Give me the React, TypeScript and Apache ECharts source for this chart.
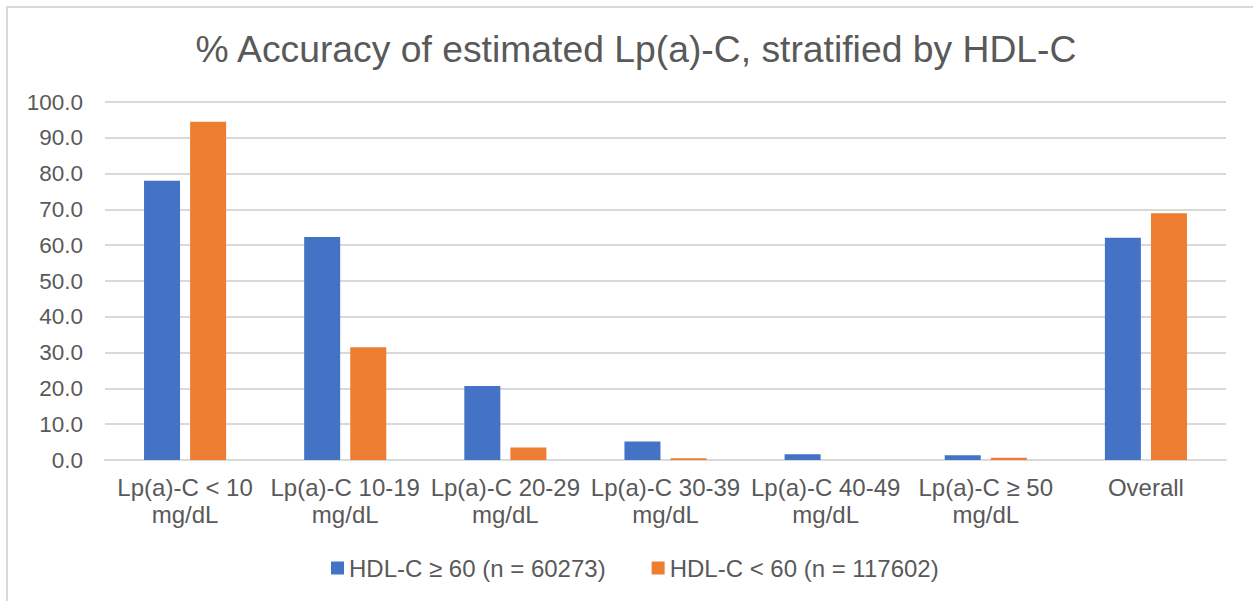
import React, { useEffect, useRef } from "react";
import * as echarts from "echarts";

const categories = [
  "Lp(a)-C < 10\nmg/dL",
  "Lp(a)-C 10-19\nmg/dL",
  "Lp(a)-C 20-29\nmg/dL",
  "Lp(a)-C 30-39\nmg/dL",
  "Lp(a)-C 40-49\nmg/dL",
  "Lp(a)-C ≥ 50\nmg/dL",
  "Overall",
];
const seriesNames = ["HDL-C ≥ 60 (n = 60273)", "HDL-C < 60 (n = 117602)"];
const highHdl = [78.0, 62.3, 20.7, 5.2, 1.6, 1.3, 62.1];
const lowHdl = [94.5, 31.5, 3.5, 0.5, 0.0, 0.6, 68.9];
const colors = ["#4472C4", "#ED7D31"];

export default function App() {
  const ref = useRef<HTMLDivElement>(null);
  useEffect(() => {
    if (!ref.current) return;
    const chart = echarts.init(ref.current, null, { renderer: "svg" });
    const font = "'Liberation Sans', Arial, sans-serif";
    chart.setOption({
      animation: false,
      backgroundColor: "transparent",
      title: {
        text: "% Accuracy of estimated Lp(a)-C, stratified by HDL-C",
        left: 631,
        textAlign: "center",
        top: 25,
        textStyle: { fontFamily: font, fontSize: 37.3, fontWeight: "normal", color: "#595959" },
      },
      legend: {
        data: seriesNames,
        left: 326,
        top: 551,
        itemWidth: 13,
        itemHeight: 13,
        itemGap: 46,
        icon: "rect",
        textStyle: { fontFamily: font, fontSize: 24, color: "#595959" },
      },
      grid: { left: 105, right: 27, top: 102, bottom: 141, containLabel: false },
      xAxis: {
        type: "category",
        data: categories,
        axisLine: { lineStyle: { color: "#d9d9d9", width: 2 } },
        axisTick: { show: false },
        axisLabel: {
          fontFamily: font,
          fontSize: 24,
          color: "#595959",
          lineHeight: 27,
          margin: 14,
          interval: 0,
        },
      },
      yAxis: {
        type: "value",
        min: 0,
        max: 100,
        interval: 10,
        axisLine: { show: false },
        axisTick: { show: false },
        splitLine: { lineStyle: { color: "#d9d9d9", width: 2 } },
        axisLabel: {
          fontFamily: font,
          fontSize: 22.5,
          color: "#595959",
          margin: 22,
          formatter: (v: number) => v.toFixed(1),
        },
      },
      series: [
        {
          name: seriesNames[0],
          type: "bar",
          data: highHdl,
          itemStyle: { color: colors[0] },
          barWidth: 36,
          barGap: "28%",
        },
        {
          name: seriesNames[1],
          type: "bar",
          data: lowHdl,
          itemStyle: { color: colors[1] },
          barWidth: 36,
          barGap: "28%",
        },
      ],
    });
    return () => chart.dispose();
  }, []);
  return (
    <div style={{ position: "absolute", left: 0, top: 0, width: 1253, height: 601, background: "#fff" }}>
      <div
        style={{
          position: "absolute",
          left: 6,
          top: 6,
          width: 1253,
          height: 601,
          borderLeft: "2px solid #d9d9d9",
          borderTop: "2px solid #d9d9d9",
        }}
      />
      <div ref={ref} style={{ position: "absolute", left: 0, top: 0, width: 1253, height: 601 }} />
    </div>
  );
}
